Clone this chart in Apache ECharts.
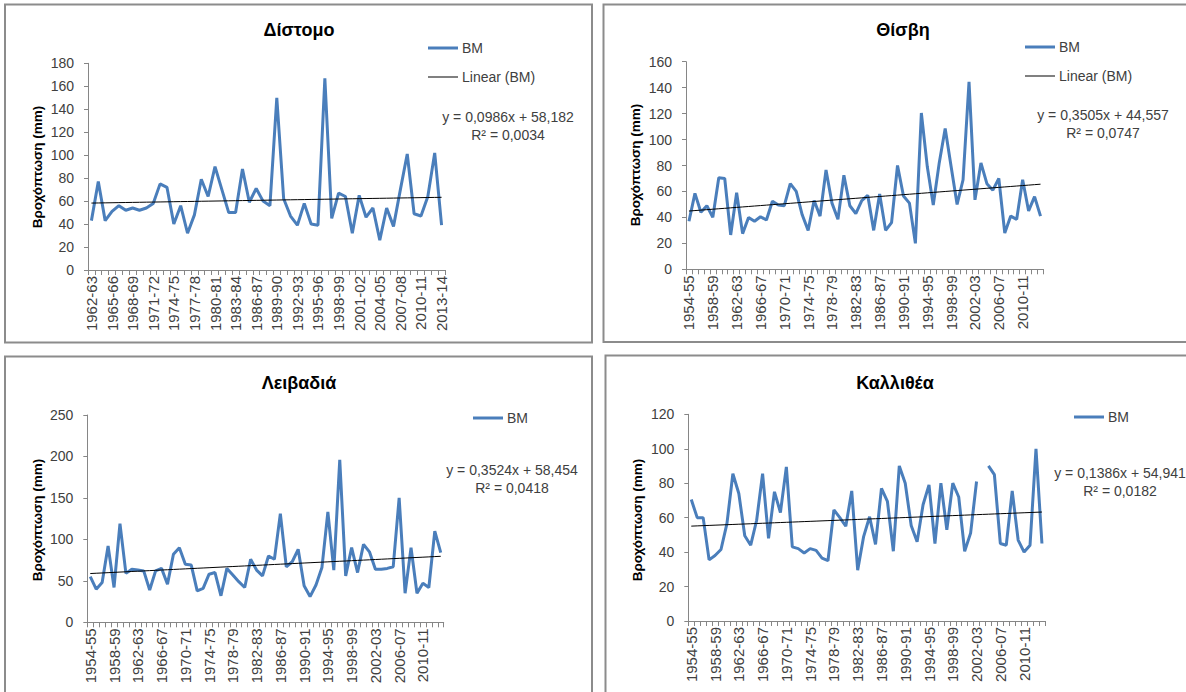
<!DOCTYPE html>
<html><head><meta charset="utf-8">
<script src="https://cdn.jsdelivr.net/npm/echarts@6/dist/echarts.min.js"></script>
<style>html,body{margin:0;padding:0;background:#fff}#c{width:1186px;height:692px}</style>
</head><body><div id="c"></div>
<script>
// ---------- categories ----------
const catsDistomo = ["1962-63","1963-64","1964-65","1965-66","1966-67","1967-68","1968-69","1969-70","1970-71","1971-72",
"1972-73","1973-74","1974-75","1975-76","1976-77","1977-78","1978-79","1979-80","1980-81","1981-82",
"1982-83","1983-84","1984-85","1985-86","1986-87","1987-88","1988-89","1989-90","1990-91","1991-92",
"1992-93","1993-94","1994-95","1995-96","1996-97","1997-98","1998-99","1999-00","2000-01","2001-02",
"2002-03","2003-04","2004-05","2005-06","2006-07","2007-08","2008-09","2009-10","2010-11","2011-12",
"2012-13","2013-14"];
const cats1954 = ["1954-55","1955-56","1956-57","1957-58","1958-59","1959-60","1960-61","1961-62",
"1962-63","1963-64","1964-65","1965-66","1966-67","1967-68","1968-69","1969-70","1970-71","1971-72",
"1972-73","1973-74","1974-75","1975-76","1976-77","1977-78","1978-79","1979-80","1980-81","1981-82",
"1982-83","1983-84","1984-85","1985-86","1986-87","1987-88","1988-89","1989-90","1990-91","1991-92",
"1992-93","1993-94","1994-95","1995-96","1996-97","1997-98","1998-99","1999-00","2000-01","2001-02",
"2002-03","2003-04","2004-05","2005-06","2006-07","2007-08","2008-09","2009-10","2010-11","2011-12",
"2012-13","2013-14"];

// ---------- series values (mm) ----------
const distomo = [43,77,43,51,56,52,54,52,54,58,
75,72,40,56,32,48,79,64,90,70,
50,50,88,59,71,60,56,150,62,47,
39,58,40,39,167,45,67,64,32,65,
46,54,26,54,38,70,101,49,47,64,
102,39];
const thisvi = [37,58.5,44,49,40,70.5,70,26.5,59,27.5,
40,37,40.5,38,52.5,49.5,49,66,60,42,
30,53,41,76.5,51,38.5,72.5,49,43,53,
57,30,58,30,36,80,56.5,51,20,120.5,
79,49.5,82,108.5,79,50,69,144.5,53.5,82,
66,61,70,28,41,38.5,69,45,56,41];
const livadia = [55,40,48,92,42,119,59,64,63,62,
39,62,65,46,82,90,70,69,38,41,
58,60,32,65,57,49,42,76,63,56,
80,76,131,67,73,88,44,31,45,66,
133,63,196,56,90,60,94,85,64,64,
65,67,150,35,90,35,47,42,110,84];
const kallithea = [70.5,60,60,35.5,38,41.5,56.5,85.5,74,49.5,
44,58.5,85.5,48,75,63,89.5,43,42,39.5,
42,41,36.5,35,64.5,60,55,75.5,29.5,49,
60.5,44.5,77,69.5,40.5,90,80,55.5,46,67.5,
79,45,80,53,80,72,40.5,51,81,null,
90,85,45,44,75.5,47,40,44,100,45];

// ---------- titles, trend coefficients, texts ----------
const titles = ["Δίστομο","Θίσβη","Λειβαδιά","Καλλιθέα"];
const trendSlope = [0.0986,0.3505,0.3524,0.1386];
const trendIntercept = [58.182,44.557,58.454,54.941];
const eqTexts = ["y = 0,0986x + 58,182","y = 0,3505x + 44,557","y = 0,3524x + 58,454","y = 0,1386x + 54,941"];
const r2Texts = ["R² = 0,0034","R² = 0,0747","R² = 0,0418","R² = 0,0182"];
const yMax = [180,160,250,120];
const yStep = [20,20,50,20];
const axisName = "Βροχόπτωση (mm)";

const FONT = "Liberation Sans, Arial, sans-serif";
const TXT = "#404040";
const BLUE = "#4A7EBB";
const AXC = "#868686";
const ICON_BM = "path://M0,0h30v3h-30z";
const ICON_LIN = "path://M0,0h30v1h-30z";

const panels = [
  {cats:catsDistomo, data:distomo, grid:{left:88,top:63.3,width:357,height:206.7}, lblInt:2,
   frame:[5,4.5,587,338], title:[299,30], legend:{left:423,top:36}, legendData:["BM","Linear (BM)"], eq:[508,117], yname:[37,167]},
  {cats:cats1954, data:thisvi, grid:{left:686,top:61.7,width:357.5,height:207.6}, lblInt:3,
   frame:[603.5,4.5,600,337.5], title:[903,30], legend:{left:1020,top:35}, legendData:["BM","Linear (BM)"], eq:[1103,115], yname:[635,165]},
  {cats:cats1954, data:livadia, grid:{left:87.3,top:415,width:356.4,height:207.3}, lblInt:3,
   frame:[5,356.5,587,350], title:[299,383], legend:{left:468,top:406}, legendData:["BM"], eq:[512,470], yname:[37,520]},
  {cats:cats1954, data:kallithea, grid:{left:688.3,top:414.3,width:356.6,height:206.7}, lblInt:3,
   frame:[605.5,355.5,600,350], title:[895,383], legend:{left:1069,top:405}, legendData:["BM"], eq:[1120,473], yname:[637,520]}
];

const option = {
  backgroundColor:"#fff",
  animation:false,
  textStyle:{fontFamily:FONT},
  grid:[], xAxis:[], yAxis:[], series:[], legend:[], graphic:[]
};

panels.forEach((p,k)=>{
  option.grid.push(Object.assign({containLabel:false}, p.grid));
  option.xAxis.push({
    type:"category", gridIndex:k, data:p.cats, boundaryGap:true,
    axisLine:{lineStyle:{color:AXC,width:1}},
    axisTick:{show:true,interval:0,length:5,alignWithLabel:false,lineStyle:{color:AXC}},
    axisLabel:{interval:p.lblInt,rotate:90,margin:6,fontSize:15,color:TXT,fontFamily:FONT},
    splitLine:{show:false}
  });
  option.yAxis.push({
    type:"value", gridIndex:k, min:0, max:yMax[k], interval:yStep[k],
    axisLine:{show:true,lineStyle:{color:AXC,width:1}},
    axisTick:{show:true,length:4,lineStyle:{color:AXC}},
    axisLabel:{margin:14,fontSize:14,color:TXT,fontFamily:FONT},
    splitLine:{show:false}
  });
  option.series.push({
    name:"BM", type:"line", xAxisIndex:k, yAxisIndex:k, data:p.data,
    symbol:"none", connectNulls:false, lineStyle:{color:BLUE,width:3}, itemStyle:{color:BLUE}, z:2
  });
  const trend = p.cats.map((c,i)=>+(trendSlope[k]*(i+1)+trendIntercept[k]).toFixed(4));
  option.series.push({
    name:"Linear (BM)", type:"line", xAxisIndex:k, yAxisIndex:k, data:trend,
    symbol:"none", lineStyle:{color:"#000",width:1}, itemStyle:{color:"#000"}, z:3
  });
  option.legend.push({
    data:p.legendData.map(n=>({name:n, icon: n==="BM" ? ICON_BM : ICON_LIN})),
    left:p.legend.left, top:p.legend.top, orient:"vertical",
    itemWidth:30, itemHeight:14, itemGap:15, selectedMode:false, symbolKeepAspect:true,
    textStyle:{fontSize:14,color:TXT,fontFamily:FONT,padding:[0,0,0,-1]}
  });
  const f = p.frame;
  option.graphic.push({type:"rect", shape:{x:f[0],y:f[1],width:f[2],height:f[3]},
    style:{fill:"none",stroke:"#8c8c8c",lineWidth:2}, silent:true, z:0});
  option.graphic.push({type:"text", x:p.title[0], y:p.title[1],
    style:{text:titles[k], font:"bold 18px "+FONT, fill:"#000", textAlign:"center", textVerticalAlign:"middle"}});
  option.graphic.push({type:"text", x:p.eq[0], y:p.eq[1],
    style:{text:eqTexts[k], font:"14px "+FONT, fill:TXT, textAlign:"center", textVerticalAlign:"middle"}});
  option.graphic.push({type:"text", x:p.eq[0], y:p.eq[1]+18,
    style:{text:r2Texts[k], font:"14px "+FONT, fill:TXT, textAlign:"center", textVerticalAlign:"middle"}});
  option.graphic.push({type:"text", x:p.yname[0], y:p.yname[1], rotation:Math.PI/2,
    style:{text:axisName, font:"bold 13.5px "+FONT, fill:"#000", textAlign:"center", textVerticalAlign:"middle"}});
});

const chart = echarts.init(document.getElementById("c"), null, {renderer:"svg"});
chart.setOption(option);
</script></body></html>
